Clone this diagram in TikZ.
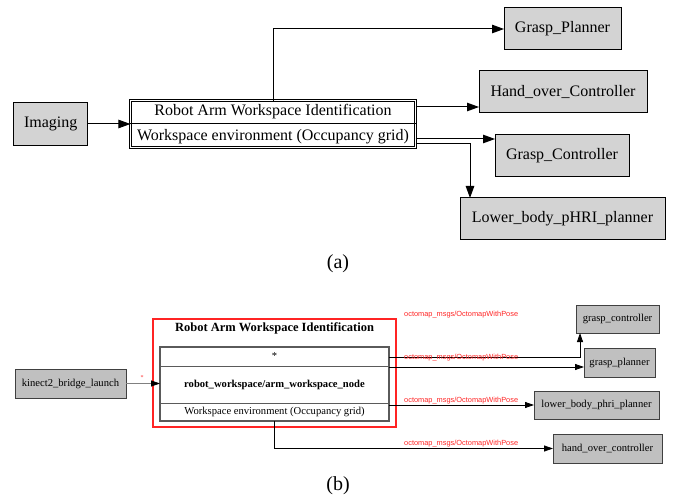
\documentclass[tikz,border=0pt]{standalone}
\usepackage{fontspec}
\setmainfont{Liberation Serif}
\newfontfamily\labfont{Liberation Sans}
\usetikzlibrary{arrows.meta,calc}
\definecolor{boxgrayA}{HTML}{D3D3D3}
\definecolor{boxgrayB}{HTML}{C0C0C0}
\definecolor{clusterred}{HTML}{FF2424}
\definecolor{recgray}{HTML}{5A5A5A}
\begin{document}
\begin{tikzpicture}[x=1pt,y=-1pt,
  boxa/.style={draw=black,fill=boxgrayA,line width=1pt,inner sep=0pt,outer sep=0pt,font=\fontsize{16}{18}\selectfont},
  txta/.style={inner sep=0pt,font=\fontsize{16}{18}\selectfont},
  reca/.style={draw=black,double=white,double distance=1.2pt,line width=0.9pt,inner sep=0pt,outer sep=0pt},
  arra/.style={line width=1pt,-{Triangle[length=12pt,width=8.5pt]}},
  boxb/.style={draw=black!75,fill=boxgrayB,line width=1pt,inner sep=0pt,outer sep=0pt,font=\fontsize{10.6}{12}\selectfont},
  txtb/.style={inner sep=0pt,font=\fontsize{10.6}{12}\selectfont},
  recb/.style={draw=recgray,line width=1.6pt,inner sep=0pt,outer sep=0pt},
  arrb/.style={line width=0.8pt,-{Triangle[length=9pt,width=6pt,color=black]}},
  toplab/.style={inner sep=0pt,anchor=west,text=clusterred,font=\labfont\fontsize{7.4}{8}\selectfont},
  caplab/.style={inner sep=0pt,font=\fontsize{20}{22}\selectfont}]
\useasboundingbox (0,0) rectangle (675,497);

% ---------- (a) ----------
\node[boxa,minimum width=74pt,minimum height=42.6pt] (img) at (50.7,124) {Imaging};
\node[reca,minimum width=285.2pt,minimum height=46.6pt] (rob) at (273,124) {};
\node[txta] (robt) at (273,111.5) {Robot Arm Workspace Identification};
\node[txta] (robw) at (273,136.5) {Workspace environment (Occupancy grid)};
\draw[line width=1pt] (rob.west |- 0,124) -- (rob.east |- 0,124);

\node[boxa,minimum width=117pt,minimum height=42pt] (gp) at (562.5,29) {Grasp\_Planner};
\node[boxa,minimum width=168pt,minimum height=42pt] (ho) at (563,92) {Hand\_over\_Controller};
\node[boxa,minimum width=134pt,minimum height=42pt] (gc) at (562,156) {Grasp\_Controller};
\node[boxa,minimum width=205pt,minimum height=42pt] (lb) at (562.5,219) {Lower\_body\_pHRI\_planner};

\draw[arra] (img.east) -- (rob.west);
\draw[arra] (rob.north) |- (gp.west);
\draw[arra] (rob.east |- 0,107) -- (ho.west |- 0,107);
\draw[arra] (rob.east |- 0,139) -- (gc.west |- 0,139);
\draw[arra] (rob.east |- 0,144) -| (lb.north -| 470,0);

\node[caplab] (capa) at (338,264) {(a)};

% ---------- (b) ----------
\node[boxb,minimum width=111pt,minimum height=29pt] (kin) at (70.5,383.5) {kinect2\_bridge\_launch};
\node[draw=clusterred,line width=1.2pt,minimum width=243pt,minimum height=108pt,inner sep=0pt,outer sep=0pt] (clu) at (274.5,373) {};
\node[inner sep=0pt,font=\bfseries\fontsize{12.5}{14}\selectfont] (clut) at (274.5,328) {Robot Arm Workspace Identification};
\node[recb,minimum width=229pt,minimum height=74pt] (rec) at (274.5,384) {};
\draw[recgray,line width=0.8pt] (rec.west |- 0,366) -- (rec.east |- 0,366);
\draw[recgray,line width=0.8pt] (rec.west |- 0,403) -- (rec.east |- 0,403);
\node[txtb] (recs) at (274.5,356) {*};
\node[txtb,font=\bfseries\fontsize{10.6}{12}\selectfont] (recn) at (274.5,384.5) {robot\_workspace/arm\_workspace\_node};
\node[txtb] (recw) at (274.5,412) {Workspace environment (Occupancy grid)};

\node[boxb,minimum width=83pt,minimum height=28pt] (gcb) at (617.5,319) {grasp\_controller};
\node[boxb,minimum width=71pt,minimum height=29pt] (gpb) at (619.5,362.5) {grasp\_planner};
\node[boxb,minimum width=125pt,minimum height=28pt] (lbb) at (596.5,405) {lower\_body\_phri\_planner};
\node[boxb,minimum width=109pt,minimum height=29pt] (hob) at (607.5,448.5) {hand\_over\_controller};

\draw[arrb,draw=gray] (kin.east) -- (rec.west |- kin.east);
\node[inner sep=0pt,text=clusterred,font=\fontsize{6}{7}\selectfont] (star) at (142,378) {*};

\draw[arrb] (rec.east |- 0,357) -| (gcb.south -| 580,0);
\draw[arrb] (rec.east |- 0,367) -- (gpb.west |- 0,367);
\draw[arrb] (rec.east |- lbb.west) -- (lbb.west);
\draw[arrb] (rec.south) |- (hob.west);

\node[toplab] (l1) at (404,315) {octomap\_msgs/OctomapWithPose};
\node[toplab] (l2) at (404,358) {octomap\_msgs/OctomapWithPose};
\node[toplab] (l3) at (404,401) {octomap\_msgs/OctomapWithPose};
\node[toplab] (l4) at (404,444) {octomap\_msgs/OctomapWithPose};

\node[caplab] (capb) at (338,486) {(b)};
\end{tikzpicture}
\end{document}
